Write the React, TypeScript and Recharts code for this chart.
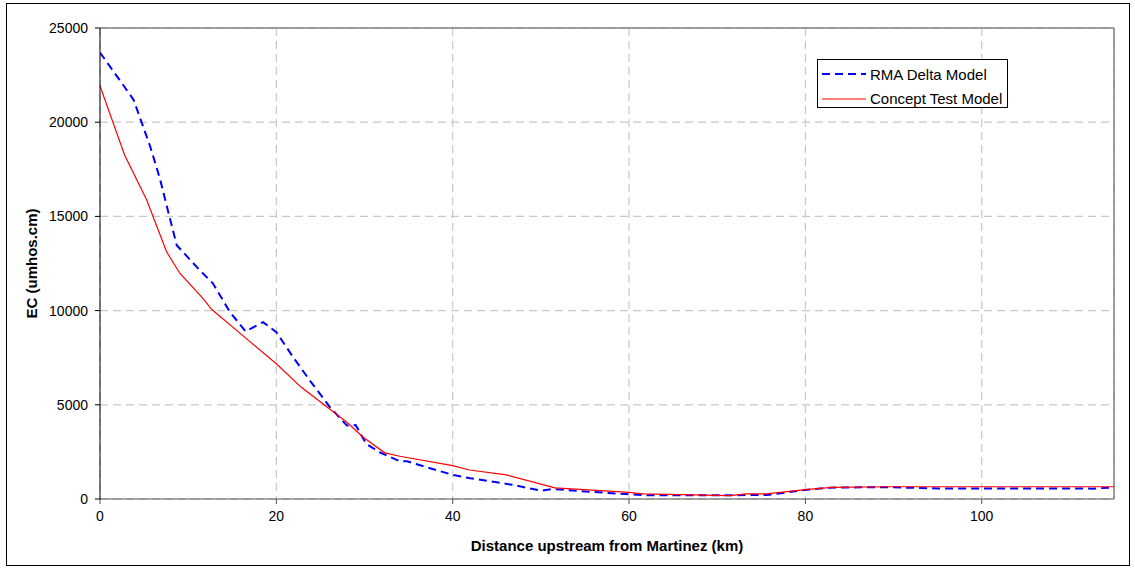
import React from 'react'
import {
  LineChart,
  Line,
  XAxis,
  YAxis,
  CartesianGrid,
  ReferenceLine,
} from 'recharts'

// Distance upstream (km) / EC (umhos.cm) pairs
const rmaKm = [0, 3.8, 5.7, 6.8, 7.6, 8.7, 11.3, 12.8, 14.7, 16.5, 18.5, 20, 21.9, 23.8, 26.1, 28, 29, 30.2, 31.7, 34, 34.8, 40, 42, 46.8, 50, 51.4, 55, 60, 62, 70, 75.6, 80, 82.8, 86.2, 90, 95, 100, 105, 112.6, 115]
const rmaEc = [23700, 21200, 18700, 17000, 15500, 13470, 12150, 11450, 9950, 8900, 9390, 8860, 7530, 6290, 4870, 3900, 3920, 2920, 2480, 2000, 2000, 1280, 1100, 750, 440, 530, 400, 250, 200, 200, 210, 480, 600, 620, 620, 560, 560, 560, 550, 620]

const ctmKm = [0, 2.8, 5.3, 7.55, 9.07, 11.7, 12.65, 16, 20, 22.8, 28, 29.85, 32.3, 34, 40, 41.9, 46.1, 51.6, 60, 61.6, 71.4, 73.3, 75.6, 80, 83, 89.6, 100, 115]
const ctmEc = [21930, 18250, 15870, 13120, 11970, 10640, 10070, 8750, 7180, 5940, 4070, 3280, 2450, 2270, 1770, 1540, 1280, 590, 350, 270, 180, 270, 270, 500, 620, 650, 650, 650]

const xTicks = [0, 20, 40, 60, 80, 100]
const yTicks = [0, 5000, 10000, 15000, 20000, 25000]

const rmaData = rmaKm.map((km, i) => ({ km, ec: rmaEc[i] }))
const ctmData = ctmKm.map((km, i) => ({ km, ec: ctmEc[i] }))

const FONT = '"Liberation Sans", Arial, sans-serif'

const legendItems = [
  { name: 'RMA Delta Model', color: '#0000ff', dash: '8 5', width: 2 },
  { name: 'Concept Test Model', color: '#ff0000', dash: undefined, width: 1.2 },
]

// Excel-style boxed legend, placed over the plot
const BoxLegend = () => (
  <div
    style={{
      position: 'absolute',
      left: 810,
      top: 55,
      width: 189,
      height: 47,
      border: '1px solid #000',
      background: '#fff',
      fontFamily: FONT,
      fontSize: 15,
    }}
  >
    {legendItems.map((item, i) => (
      <div
        key={item.name}
        style={{
          position: 'absolute',
          left: 4,
          top: 4 + i * 24.6,
          height: 20,
          display: 'flex',
          alignItems: 'center',
        }}
      >
        <svg width={44} height={20}>
          <line
            x1={0}
            y1={10}
            x2={44}
            y2={10}
            stroke={item.color}
            strokeWidth={item.width}
            strokeDasharray={item.dash}
          />
        </svg>
        <span style={{ marginLeft: 4, whiteSpace: 'nowrap' }}>{item.name}</span>
      </div>
    ))}
  </div>
)

export default function App() {
  return (
    <div
      style={{
        position: 'absolute',
        left: 6,
        top: 3,
        width: 1122,
        height: 561,
        border: '1px solid #000',
        background: '#fff',
      }}
    >
      <LineChart
        width={1122}
        height={561}
        margin={{ top: 24, right: 15, left: 0, bottom: 0 }}
      >
        <CartesianGrid
          stroke="#c8c8c8"
          strokeDasharray="8 5"
          strokeWidth={1.2}
        />
        <XAxis
          dataKey="km"
          type="number"
          domain={[0, 115]}
          ticks={xTicks}
          allowDataOverflow
          height={66}
          stroke="#505050"
          tickSize={5}
          tickMargin={7}
          tick={{ fill: '#000', fontSize: 14, fontFamily: FONT }}
          label={{
            content: ({ viewBox }: any) => (
              <text
                x={viewBox.x + viewBox.width / 2}
                y={viewBox.y + 52}
                textAnchor="middle"
                fontFamily={FONT}
                fontSize={15}
                fontWeight="bold"
                fill="#000"
              >
                Distance upstream from Martinez (km)
              </text>
            ),
          }}
        />
        <YAxis
          type="number"
          domain={[0, 25000]}
          ticks={yTicks}
          width={93}
          stroke="#000"
          tickSize={5}
          tickMargin={7}
          tick={{ fill: '#000', fontSize: 14, fontFamily: FONT }}
          label={{
            content: ({ viewBox }: any) => {
              const cx = 24
              const cy = viewBox.y + viewBox.height / 2
              return (
                <text
                  x={cx}
                  y={cy}
                  transform={`rotate(-90 ${cx} ${cy})`}
                  textAnchor="middle"
                  dominantBaseline="central"
                  fontFamily={FONT}
                  fontSize={15}
                  fontWeight="bold"
                  fill="#000"
                >
                  EC (umhos.cm)
                </text>
              )
            },
          }}
        />
        <ReferenceLine y={25000} stroke="#808080" strokeWidth={1.5} />
        <ReferenceLine x={115} stroke="#808080" strokeWidth={1.5} />
        <Line
          data={rmaData}
          dataKey="ec"
          name="RMA Delta Model"
          type="linear"
          stroke="#0000ff"
          strokeWidth={2}
          strokeDasharray="8 5"
          dot={false}
          isAnimationActive={false}
        />
        <Line
          data={ctmData}
          dataKey="ec"
          name="Concept Test Model"
          type="linear"
          stroke="#ff0000"
          strokeWidth={1.2}
          dot={false}
          isAnimationActive={false}
        />
      </LineChart>
      <BoxLegend />
    </div>
  )
}
